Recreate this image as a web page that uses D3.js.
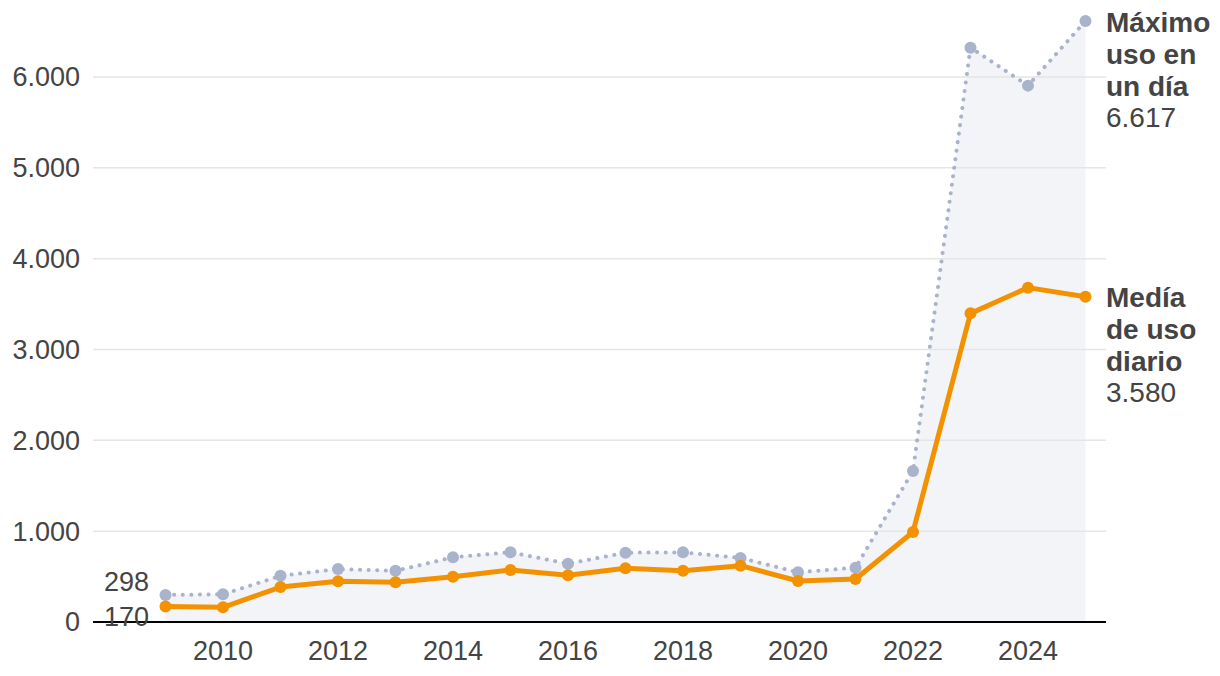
<!DOCTYPE html>
<html>
<head>
<meta charset="utf-8">
<script src="https://cdn.jsdelivr.net/npm/d3@7"></script>
<style>
  body { margin: 0; background: #fff; }
  svg { display: block; font-family: "Liberation Sans", Arial, sans-serif; }
</style>
</head>
<body>
<svg id="chart" width="1220" height="676"></svg>
<script>
const years = [2009,2010,2011,2012,2013,2014,2015,2016,2017,2018,2019,2020,2021,2022,2023,2024,2025];
const maxUse = [298,305,508,583,563,712,767,642,763,767,705,547,598,1662,6323,5905,6617];
const avgUse = [170,162,385,448,437,499,572,514,591,565,620,451,473,991,3398,3681,3580];
const yTicks = [0,1000,2000,3000,4000,5000,6000];
const xTicks = [2010,2012,2014,2016,2018,2020,2022,2024];
const maxLabel = ["Máximo","uso en","un día"];
const avgLabel = ["Medía","de uso","diario"];

const fmt = d3.formatLocale({decimal: ",", thousands: ".", grouping: [3], currency: ["", "€"]}).format(",d");

const svg = d3.select("#chart");
const x = d3.scaleLinear().domain([2009, 2025]).range([165.5, 1085.5]);
const y = d3.scaleLinear().domain([0, 6000]).range([622, 77]);
const gridL = 93, gridR = 1106;

// area under max line
svg.append("path")
  .datum(years.map((yr,i)=>[yr,maxUse[i]]))
  .attr("fill", "#f3f4f8")
  .attr("d", d3.area().x(d=>x(d[0])).y0(y(0)).y1(d=>y(d[1])));

// gridlines
svg.append("g").selectAll("line").data(yTicks.filter(d=>d>0)).join("line")
  .attr("x1", gridL).attr("x2", gridR)
  .attr("y1", d=>y(d)).attr("y2", d=>y(d))
  .attr("stroke", "#e5e5e5").attr("stroke-width", 1.5);

// y tick labels
svg.append("g").selectAll("text").data(yTicks).join("text")
  .attr("x", 80).attr("y", d=>y(d)).attr("dy", "0.35em")
  .attr("text-anchor", "end").attr("font-size", 27).attr("fill", "#444")
  .text(d=>fmt(d));

// x tick labels
svg.append("g").selectAll("text").data(xTicks).join("text")
  .attr("x", d=>x(d)).attr("y", 660)
  .attr("text-anchor", "middle").attr("font-size", 27).attr("fill", "#444")
  .text(d=>d);

// max line dotted
const line = d3.line().x(d=>x(d[0])).y(d=>y(d[1]));
svg.append("path")
  .datum(years.map((yr,i)=>[yr,maxUse[i]]))
  .attr("fill", "none").attr("stroke", "#a9b3cb").attr("stroke-width", 4)
  .attr("stroke-linecap", "round").attr("stroke-dasharray", "0.1 8.5")
  .attr("d", line);
svg.append("g").selectAll("circle").data(years.map((yr,i)=>[yr,maxUse[i]])).join("circle")
  .attr("cx", d=>x(d[0])).attr("cy", d=>y(d[1])).attr("r", 6).attr("fill", "#a9b3cb");

// avg line
svg.append("path")
  .datum(years.map((yr,i)=>[yr,avgUse[i]]))
  .attr("fill", "none").attr("stroke", "#f39200").attr("stroke-width", 5)
  .attr("stroke-linejoin", "round")
  .attr("d", line);
svg.append("g").selectAll("circle").data(years.map((yr,i)=>[yr,avgUse[i]])).join("circle")
  .attr("cx", d=>x(d[0])).attr("cy", d=>y(d[1])).attr("r", 6).attr("fill", "#f39200");

// baseline
svg.append("line").attr("x1", gridL).attr("x2", gridR).attr("y1", y(0)).attr("y2", y(0))
  .attr("stroke", "#000").attr("stroke-width", 2);

// start labels
svg.append("text").attr("x", 149).attr("y", y(maxUse[0]) - 13).attr("dy", "0.35em")
  .attr("text-anchor", "end").attr("font-size", 27).attr("fill", "#444").text(fmt(maxUse[0]));
svg.append("text").attr("x", 149).attr("y", y(avgUse[0]) + 10).attr("dy", "0.35em")
  .attr("text-anchor", "end").attr("font-size", 27).attr("fill", "#444").text(fmt(avgUse[0]));

// end labels
function endLabel(lines, val, baseY) {
  const g = svg.append("text").attr("x", 1106).attr("font-size", 28).attr("fill", "#444");
  lines.forEach((l,i)=>{
    g.append("tspan").attr("x", 1106).attr("y", baseY + i*31.8).attr("font-weight", "bold").text(l);
  });
  g.append("tspan").attr("x", 1106).attr("y", baseY + lines.length*31.8).text(fmt(val));
}
endLabel(maxLabel, maxUse[maxUse.length-1], 32);
endLabel(avgLabel, avgUse[avgUse.length-1], 307);
</script>
</body>
</html>
